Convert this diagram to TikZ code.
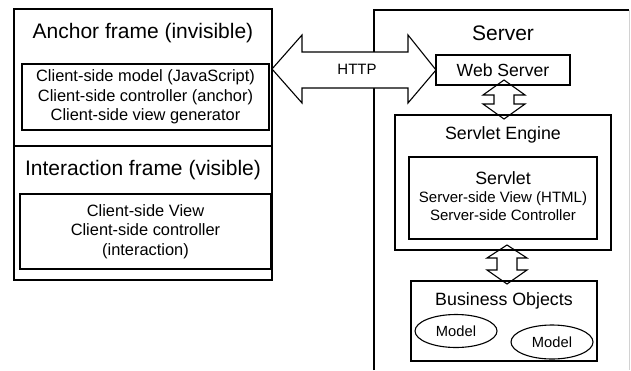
\documentclass[tikz,border=0pt]{standalone}
\usepackage{fontspec}
\setmainfont{Liberation Sans}
\usetikzlibrary{shapes.geometric}
\begin{document}
\begin{tikzpicture}[x=1pt,y=-1pt,
  frame/.style={draw, line width=1.3pt, inner sep=0pt, outer sep=0pt},
  box/.style={draw, line width=1.1pt, inner sep=0pt, outer sep=0pt, align=center},
  bigtitle/.style={font=\fontsize{21}{25}\selectfont, inner sep=0pt},
  subtitle/.style={font=\fontsize{17.8}{21}\selectfont, inner sep=0pt},
  bodyl/.style={font=\fontsize{16.4}{19.5}\selectfont, align=center},
  bodyr/.style={font=\fontsize{15}{18}\selectfont, align=center, inner sep=0pt},
  blockarrow/.style={draw, line width=1.1pt, fill=white, line join=miter},
  modelnode/.style={draw, ellipse, line width=1.1pt, inner sep=0pt, font=\fontsize{14.7}{17}\selectfont}]
\useasboundingbox (0,0) rectangle (631,370);

% Left frames
\node[frame, minimum width=258pt, minimum height=137pt] (anchorframe) at (143,77.5) {};
\node[frame, minimum width=258pt, minimum height=134pt] (interframe) at (143,213) {};
\node[bigtitle] (anchortitle) at (143,33) {Anchor frame (invisible)};
\node[bigtitle] (intertitle) at (143,170) {Interaction frame (visible)};
\node[box, bodyl, minimum width=247pt, minimum height=66pt] (anchorbox) at (145.5,97)
  {Client-side model (JavaScript)\\Client-side controller (anchor)\\Client-side view generator};
\node[box, bodyl, minimum width=251pt, minimum height=75pt] (interbox) at (145.5,231.5)
  {Client-side View\\Client-side controller\\(interaction)};

% Server frame
\coordinate (srvbl) at (374,370);
\coordinate (srvtl) at (374,10);
\coordinate (srvtr) at (629,10);
\coordinate (srvbr) at (629,370);
\draw[line width=1.3pt] (srvbl) -- (srvtl) -- (srvtr);
\draw[line width=1pt, gray!35] (srvtr) -- (srvbr);
\node[bigtitle] (servertitle) at (503,33) {Server};

% Vertical block arrows (drawn below boxes)
\draw[blockarrow] (504,80) -- (525,95) -- (514,95) -- (514,104) -- (525,104) -- (504,119)
  -- (483,104) -- (494,104) -- (494,95) -- (483,95) -- cycle;
\draw[blockarrow] (507,245) -- (527,258) -- (517,258) -- (517,270) -- (527,270) -- (507,284)
  -- (487,270) -- (497,270) -- (497,258) -- (487,258) -- cycle;

% Server boxes
\node[box, font=\fontsize{17.6}{21}\selectfont, minimum width=134pt, minimum height=30pt] (webserver) at (503,70) {Web Server};
\node[box, minimum width=216pt, minimum height=135pt] (engine) at (503,182.5) {};
\node[subtitle] (enginetitle) at (503,135) {Servlet Engine};
\node[box, minimum width=188pt, minimum height=82pt] (servlet) at (503,198) {};
\node[subtitle] (servlettitle) at (503,178) {Servlet};
\node[bodyr] (servlettext) at (503,206) {Server-side View (HTML)\\Server-side Controller};
\node[box, minimum width=186pt, minimum height=80pt] (business) at (504,321) {};
\node[subtitle] (businesstitle) at (504,301) {Business Objects};
\node[modelnode, minimum width=82pt, minimum height=33pt] (model1) at (456,331) {Model};
\node[modelnode, minimum width=82pt, minimum height=34pt] (model2) at (552,342) {Model};

% HTTP block arrow
\draw[blockarrow] (anchorframe.east |- 0,69) -- (302,35) -- (302,52) -- (408,52) -- (408,35)
  -- (webserver.west) -- (408,103) -- (408,88) -- (302,88) -- (302,103) -- cycle;
\node[font=\fontsize{15}{18}\selectfont, inner sep=0pt] (http) at (357,69) {HTTP};
\end{tikzpicture}
\end{document}
